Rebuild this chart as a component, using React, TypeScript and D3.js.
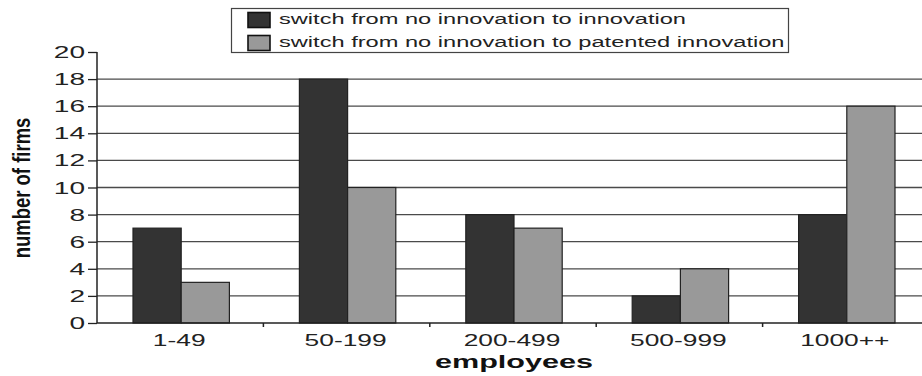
import React, { useEffect, useRef } from 'react';
import * as d3 from 'd3';

const categories = ['1-49', '50-199', '200-499', '500-999', '1000++'];
const innovation = [7, 18, 8, 2, 8];
const patented = [3, 10, 7, 4, 16];
const seriesNames = [
    'switch from no innovation to innovation',
    'switch from no innovation to patented innovation',
];
const yTicks = [0, 2, 4, 6, 8, 10, 12, 14, 16, 18, 20];

const App = () => {
    const ref = useRef<SVGSVGElement>(null);

    useEffect(() => {
        const svg = d3.select(ref.current);
        svg.selectAll('*').remove();

        const left = 97;
        const right = 929;
        const top = 52;
        const bottom = 323;
        const font = 'Liberation Sans, Arial, sans-serif';

        const x = d3.scaleBand().domain(categories).range([left, right]).paddingInner(0).paddingOuter(0);
        const inner = d3
            .scaleBand()
            .domain(['a', 'b'])
            .range([36, x.bandwidth() - 34])
            .padding(0);
        const y = d3.scaleLinear().domain([0, 20]).range([bottom, top]);

        // gridlines
        svg
            .append('g')
            .selectAll('line')
            .data(yTicks.filter((t) => t > 0 && t < 20))
            .enter()
            .append('line')
            .attr('x1', left)
            .attr('x2', 922)
            .attr('y1', (d) => y(d))
            .attr('y2', (d) => y(d))
            .attr('stroke', '#4a4a4a')
            .attr('stroke-width', 1.3);

        const colors = ['#333333', '#999999'];
        const series = [innovation, patented];
        series.forEach((vals, si) => {
            svg
                .append('g')
                .selectAll('rect')
                .data(vals)
                .enter()
                .append('rect')
                .attr('x', (d, i) => (x(categories[i]) as number) + (inner(si ? 'b' : 'a') as number))
                .attr('y', (d) => y(d))
                .attr('width', inner.bandwidth())
                .attr('height', (d) => bottom - y(d))
                .attr('fill', colors[si])
                .attr('stroke', '#222')
                .attr('stroke-width', 1.2);
        });

        // y axis (labels drawn by hand so they can be stretched like the original)
        const yAxis = svg
            .append('g')
            .attr('transform', `translate(${left},0)`)
            .call(d3.axisLeft(y).tickValues(yTicks).tickSize(9).tickFormat(() => ''));
        yAxis.select('.domain').attr('stroke', '#222').attr('stroke-width', 1.5).attr('d', `M0,${top}V${bottom}`);
        yAxis.selectAll('.tick line').attr('stroke', '#222').attr('stroke-width', 1.3);
        svg
            .append('g')
            .selectAll('text')
            .data(yTicks)
            .enter()
            .append('text')
            .attr('transform', (d) => `translate(85,${y(d) + 6}) scale(1.65,1)`)
            .attr('text-anchor', 'end')
            .attr('font-family', font)
            .attr('font-size', 17)
            .attr('fill', '#222')
            .text((d) => d);

        // x axis
        const xAxis = svg
            .append('g')
            .attr('transform', `translate(0,${bottom})`)
            .call(d3.axisBottom(x).tickSize(0).tickFormat(() => ''));
        xAxis.select('.domain').attr('stroke', '#222').attr('stroke-width', 1.5).attr('d', `M${left},0H922`);
        svg
            .append('g')
            .selectAll('text')
            .data(categories)
            .enter()
            .append('text')
            .attr('transform', (d) => `translate(${(x(d) as number) + x.bandwidth() / 2 - 1},346) scale(1.55,1)`)
            .attr('text-anchor', 'middle')
            .attr('font-family', font)
            .attr('font-size', 17)
            .attr('fill', '#222')
            .text((d) => d);
        svg
            .append('g')
            .selectAll('line')
            .data(categories.slice(1))
            .enter()
            .append('line')
            .attr('x1', (d) => x(d) as number)
            .attr('x2', (d) => x(d) as number)
            .attr('y1', bottom)
            .attr('y2', bottom + 4)
            .attr('stroke', '#222')
            .attr('stroke-width', 1.5);

        // titles
        svg
            .append('text')
            .attr('transform', 'translate(514,368) scale(1.7,1)')
            .attr('text-anchor', 'middle')
            .attr('font-family', font)
            .attr('font-weight', 'bold')
            .attr('font-size', 18)
            .attr('fill', '#111')
            .text('employees');
        svg
            .append('text')
            .attr('transform', 'translate(30,188) scale(1.3,1) rotate(-90)')
            .attr('text-anchor', 'middle')
            .attr('font-family', font)
            .attr('font-weight', 'bold')
            .attr('font-size', 18.5)
            .attr('fill', '#111')
            .text('number of firms');

        // legend
        const lg = svg.append('g');
        lg.append('rect')
            .attr('x', 231.5)
            .attr('y', 8.5)
            .attr('width', 557)
            .attr('height', 44)
            .attr('fill', 'white')
            .attr('stroke', '#444')
            .attr('stroke-width', 1.2);
        seriesNames.forEach((name, i) => {
            lg.append('rect')
                .attr('x', 248)
                .attr('y', 12.5 + i * 23)
                .attr('width', 22)
                .attr('height', 15)
                .attr('fill', colors[i])
                .attr('stroke', '#111')
                .attr('stroke-width', 1.6);
            lg.append('text')
                .attr('transform', `translate(279,${24 + i * 22.5}) scale(1.63,1)`)
                .attr('font-family', font)
                .attr('font-size', 14.5)
                .attr('fill', '#222')
                .text(name);
        });
    }, []);

    return (
        <svg
            ref={ref}
            width={922}
            height={376}
            style={{ position: 'absolute', left: 0, top: 0, background: 'white' }}
        />
    );
};

export default App;
